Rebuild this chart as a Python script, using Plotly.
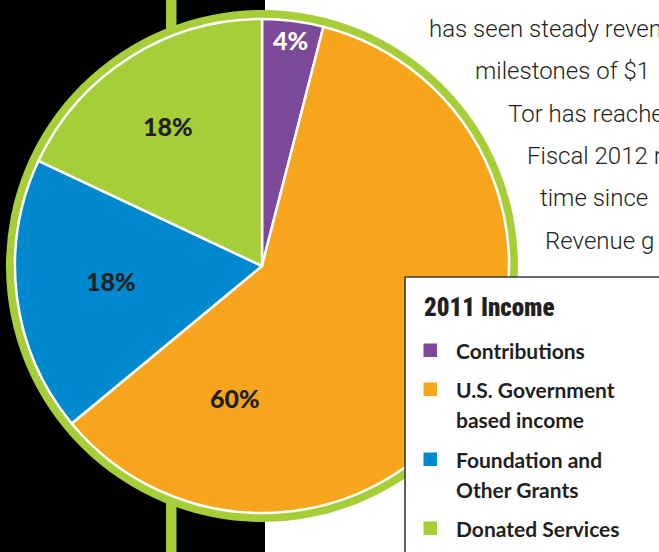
import plotly.graph_objects as go

W, H = 659, 552

# ---- data ----
categories = ["Contributions", "U.S. Government based income",
              "Foundation and Other Grants", "Donated Services"]
values = [4, 60, 18, 18]
legend_lines = [["Contributions"], ["U.S. Government", "based income"],
                ["Foundation and", "Other Grants"], ["Donated Services"]]
colors = ["#7d4a9b", "#f6a51d", "#0089cf", "#a6ce39"]
label_colors = ["#ffffff", "#231f20", "#231f20", "#231f20"]
legend_title = "2011 Income"
body_lines = ["has seen steady reven", "milestones of $1", "Tor has reache",
              "Fiscal 2012 r", "time since", "Revenue g"]

# ---- layout geometry (pixels) ----
cx, cy = 262, 266
r_in, r_ring = 247, 256
GREEN = "#a6ce39"
DARK = "#231f20"


def px(x):
    return x / W


def py(y):
    return 1 - y / H


fig = go.Figure()
fig.add_trace(go.Pie(
    labels=categories, values=values, sort=False, direction="clockwise",
    rotation=0, marker=dict(colors=colors, line=dict(color="white", width=2.5)),
    textinfo="none", hoverinfo="label+percent", showlegend=False,
    domain=dict(x=[px(cx - r_in), px(cx + r_in)], y=[py(cy + r_in), py(cy - r_in)]),
))

shapes = [
    dict(type="rect", xref="paper", yref="paper", x0=0, x1=px(265), y0=0, y1=1,
         fillcolor="black", line=dict(width=0), layer="below"),
    dict(type="rect", xref="paper", yref="paper", x0=px(166), x1=px(176.5), y0=0, y1=1,
         fillcolor=GREEN, line=dict(width=0), layer="below"),
    dict(type="circle", xref="paper", yref="paper",
         x0=px(cx - r_ring), x1=px(cx + r_ring), y0=py(cy + r_ring), y1=py(cy - r_ring),
         fillcolor=GREEN, line=dict(width=0), layer="below"),
    dict(type="rect", xref="paper", yref="paper", x0=px(405), x1=1.1, y0=-0.1, y1=py(277),
         fillcolor="white", line=dict(color="#3a3a3a", width=1.6), layer="above"),
]

annotations = []
# pie percent labels
total = sum(values)
label_pos = [(290, 40), (235, 398), (111, 281), (168, 126)]
for v, c, (lx, ly) in zip(values, label_colors, label_pos):
    annotations.append(dict(
        x=px(lx), y=py(ly), xref="paper", yref="paper", showarrow=False,
        text=f"{round(100 * v / total)}%", xanchor="center", yanchor="middle",
        font=dict(family="Lato, Open Sans, sans-serif", size=25, color=c, weight=900)))

# legend (manual)
annotations.append(dict(
    x=px(422), y=py(307), xref="paper", yref="paper", showarrow=False,
    text=legend_title, xanchor="left", yanchor="middle",
    font=dict(family="Roboto Condensed, DejaVu Sans Condensed, sans-serif",
              size=25, color=DARK, weight=900)))
item_y = [350, 389, 459, 528]
for lines, col, y0 in zip(legend_lines, colors, item_y):
    shapes.append(dict(type="rect", xref="paper", yref="paper",
                       x0=px(423.5), x1=px(437), y0=py(y0 + 7), y1=py(y0 - 6.5),
                       fillcolor=col, line=dict(width=0), layer="above"))
    for i, t in enumerate(lines):
        annotations.append(dict(
            x=px(454), y=py(y0 + 30 * i), xref="paper", yref="paper", showarrow=False,
            text=t, xanchor="left", yanchor="middle",
            font=dict(family="Lato, Open Sans, sans-serif", size=21, color=DARK,
                      weight="bold")))

# body text on the right (clipped at the page edge, as in the reference)
body_x = [427, 473, 506, 525, 538, 543]
body_y = [29, 71, 114, 156, 198, 241]
for t, bx, by in zip(body_lines, body_x, body_y):
    annotations.append(dict(
        x=px(bx), y=py(by), xref="paper", yref="paper", showarrow=False,
        text=t, xanchor="left", yanchor="middle",
        font=dict(family="Roboto, Noto Sans, sans-serif",
                  size=24, color=DARK, weight=300)))

fig.update_layout(
    width=W, height=H, margin=dict(l=0, r=0, t=0, b=0),
    paper_bgcolor="white", plot_bgcolor="white",
    shapes=shapes, annotations=annotations, showlegend=False,
)

fig.write_html("out.html", config={"displayModeBar": False},
               post_script="document.body.style.margin='0';document.body.style.overflow='hidden';")
